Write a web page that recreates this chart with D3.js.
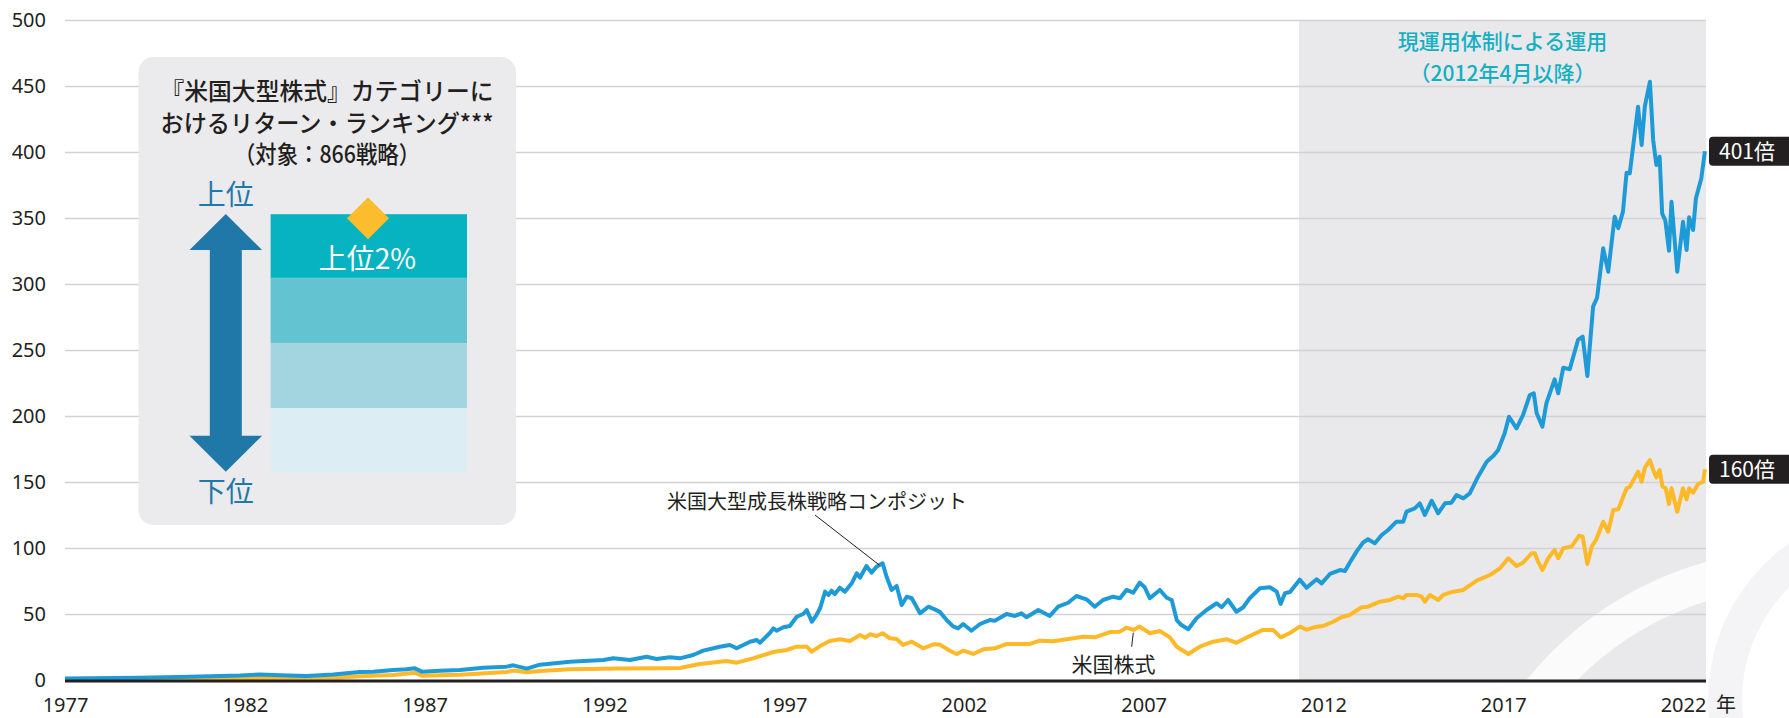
<!DOCTYPE html>
<html>
<head>
<meta charset="utf-8">
<script src="https://cdn.jsdelivr.net/npm/d3@7/dist/d3.min.js"></script>
<style>
  body { margin: 0; background: #fff; }
  svg { display: block; font-family: "Noto Sans CJK JP", "Noto Sans", sans-serif; }
  .tick-label { font-family: "Noto Sans", sans-serif; font-size: 20px; fill: #231f20; }
</style>
</head>
<body>
<div id="vis-container"></div>
<script>
// values, x = year as placed on the axis, y = growth multiple
const growthSeries = [
  [1977.00,1.5],[1979.09,2.0],[1980.48,2.8],[1981.87,3.8],[1982.42,4.6],[1982.98,3.9],[1983.72,3.4],[1984.46,4.6],
  [1985.20,6.5],[1985.57,6.7],[1986.13,8.0],[1986.50,8.5],[1986.73,9.2],[1986.92,6.7],[1987.43,7.4],[1987.98,8.0],
  [1988.63,9.7],[1989.28,10.5],[1989.47,11.5],[1989.84,9.0],[1990.21,12.0],[1991.04,14.2],[1991.97,15.5],[1992.25,16.8],
  [1992.71,15.5],[1993.18,18.0],[1993.45,16.3],[1993.82,17.6],[1994.10,16.8],[1994.47,19.3],[1994.75,22.6],[1995.21,25.6],
  [1995.49,26.9],[1995.68,24.4],[1996.05,29.4],[1996.24,30.7],[1996.33,28.6],[1996.61,36.2],[1996.70,39.5],[1996.79,37.7],
  [1996.98,40.3],[1997.16,41.3],[1997.35,48.3],[1997.53,50.4],[1997.63,53.4],[1997.77,44.5],[1997.90,49.6],[1998.00,54.7],
  [1998.14,67.3],[1998.23,64.8],[1998.32,68.0],[1998.41,65.5],[1998.55,70.3],[1998.69,67.3],[1998.88,73.6],[1999.02,81.2],
  [1999.11,77.9],[1999.29,86.7],[1999.43,81.7],[1999.57,86.2],[1999.74,88.8],[1999.85,78.6],[1999.99,68.6],[2000.13,71.6],
  [2000.27,57.2],[2000.41,63.5],[2000.55,62.3],[2000.78,50.9],[2001.01,55.9],[2001.19,53.9],[2001.33,52.0],[2001.52,45.8],
  [2001.70,41.0],[2001.84,39.5],[2001.98,42.8],[2002.21,37.7],[2002.45,42.8],[2002.72,45.8],[2002.86,45.3],[2003.19,50.4],
  [2003.42,48.9],[2003.60,50.9],[2003.74,47.9],[2004.07,53.4],[2004.39,48.9],[2004.62,55.9],[2004.90,58.9],[2005.13,64.0],
  [2005.41,61.5],[2005.64,55.9],[2005.87,61.0],[2006.15,63.5],[2006.34,62.3],[2006.52,68.6],[2006.71,66.5],[2006.89,74.1],
  [2007.03,70.6],[2007.17,62.3],[2007.45,68.6],[2007.64,62.7],[2007.78,61.0],[2007.92,45.8],[2008.05,42.0],[2008.24,38.8],
  [2008.47,47.1],[2008.75,53.4],[2009.03,58.5],[2009.17,55.5],[2009.35,61.0],[2009.58,52.1],[2009.77,55.5],[2009.95,62.3],
  [2010.23,69.8],[2010.51,70.6],[2010.70,67.3],[2010.81,58.0],[2010.93,66.1],[2011.07,67.0],[2011.34,76.4],[2011.53,70.2],
  [2011.81,76.7],[2011.95,73.6],[2012.18,80.7],[2012.46,83.7],[2012.60,83.0],[2012.73,89.2],[2012.92,97.6],[2013.10,104.4],
  [2013.24,107.0],[2013.43,103.9],[2013.62,110.2],[2013.80,114.0],[2014.03,120.3],[2014.22,120.3],[2014.31,127.9],[2014.54,130.4],
  [2014.68,134.2],[2014.82,125.4],[2015.01,136.2],[2015.19,126.7],[2015.38,134.2],[2015.56,134.7],[2015.70,140.5],[2015.89,138.0],
  [2016.07,141.8],[2016.30,154.4],[2016.54,165.8],[2016.72,170.0],[2016.86,174.6],[2017.04,187.3],[2017.16,199.8],[2017.37,191.0],
  [2017.55,201.1],[2017.74,216.3],[2017.85,217.6],[2017.93,202.4],[2018.09,192.3],[2018.20,210.0],[2018.43,228.2],[2018.53,217.6],
  [2018.67,237.0],[2018.85,235.8],[2019.08,258.0],[2019.21,260.5],[2019.34,230.7],[2019.50,283.2],[2019.61,290.0],[2019.78,327.4],
  [2019.92,309.7],[2020.10,351.4],[2020.20,342.6],[2020.33,355.2],[2020.43,384.7],[2020.52,384.2],[2020.75,434.7],[2020.85,405.7],
  [2020.94,435.2],[2021.08,453.6],[2021.17,409.5],[2021.26,390.5],[2021.35,396.8],[2021.42,353.9],[2021.51,348.3],[2021.61,325.6],
  [2021.68,362.7],[2021.84,309.7],[2022.00,347.6],[2022.10,326.1],[2022.17,350.9],[2022.28,341.3],[2022.36,365.3],[2022.51,380.5],
  [2022.61,401]
];

const stockSeries = [
  [1977.00,1.2],[1980.48,1.4],[1981.87,1.8],[1982.98,2.0],[1984.65,2.3],[1985.20,3.2],[1986.13,4.2],[1986.73,5.9],
  [1986.92,3.6],[1987.98,4.4],[1989.28,6.5],[1989.47,7.5],[1989.84,6.2],[1990.21,7.2],[1991.04,8.5],[1992.43,9.0],
  [1993.55,9.2],[1994.10,9.5],[1994.66,12.5],[1995.40,14.8],[1995.68,13.5],[1996.14,16.8],[1996.70,21.6],[1997.07,23.1],
  [1997.35,25.6],[1997.63,25.6],[1997.77,21.8],[1998.00,26.1],[1998.27,29.9],[1998.55,31.2],[1998.83,29.9],[1999.11,34.5],
  [1999.25,32.4],[1999.39,35.0],[1999.57,33.7],[1999.74,35.8],[1999.94,32.0],[2000.13,31.4],[2000.31,26.9],[2000.55,29.4],
  [2000.87,24.4],[2001.15,27.4],[2001.33,27.2],[2001.61,22.5],[2001.80,20.1],[2001.98,22.6],[2002.26,20.1],[2002.54,23.6],
  [2002.86,24.4],[2003.19,27.7],[2003.56,27.7],[2003.84,27.7],[2004.11,30.2],[2004.48,29.7],[2004.86,31.2],[2005.32,33.2],
  [2005.64,32.7],[2006.06,36.7],[2006.34,37.0],[2006.52,40.0],[2006.71,38.3],[2006.89,40.8],[2007.17,35.8],[2007.45,37.5],
  [2007.73,32.7],[2007.92,25.6],[2008.24,20.1],[2008.56,25.6],[2008.93,29.4],[2009.31,31.2],[2009.58,28.6],[2009.95,33.7],
  [2010.32,38.3],[2010.60,38.3],[2010.81,32.7],[2011.07,36.0],[2011.34,40.8],[2011.53,38.5],[2011.81,40.8],[2011.99,41.3],
  [2012.27,44.5],[2012.50,47.9],[2012.73,49.6],[2013.06,55.5],[2013.24,55.9],[2013.57,59.7],[2013.85,61.0],[2014.08,63.5],
  [2014.22,62.3],[2014.31,64.8],[2014.59,64.8],[2014.73,63.5],[2014.82,59.7],[2014.96,64.8],[2015.19,61.0],[2015.33,64.8],
  [2015.61,67.3],[2015.89,68.6],[2016.26,75.6],[2016.63,79.9],[2016.91,85.0],[2017.14,92.6],[2017.37,86.7],[2017.55,89.2],
  [2017.79,96.4],[2017.88,96.4],[2017.97,90.0],[2018.09,83.7],[2018.25,92.6],[2018.43,98.9],[2018.53,92.6],[2018.67,100.2],
  [2018.90,101.4],[2019.11,109.7],[2019.21,108.9],[2019.34,88.3],[2019.46,101.4],[2019.59,107.0],[2019.78,120.3],[2019.92,112.7],
  [2020.06,129.2],[2020.20,129.7],[2020.43,145.6],[2020.52,146.8],[2020.75,158.2],[2020.85,150.6],[2020.94,161.2],[2021.08,167.0],
  [2021.17,159.5],[2021.26,153.9],[2021.35,159.5],[2021.43,146.8],[2021.52,145.6],[2021.61,133.7],[2021.68,145.6],[2021.84,127.9],
  [2022.00,145.6],[2022.10,137.3],[2022.17,145.6],[2022.28,142.3],[2022.42,148.9],[2022.56,150.6],[2022.61,160]
];

const yearTicks = [1977, 1982, 1987, 1992, 1997, 2002, 2007, 2012, 2017, 2022];
const valueTicks = [0, 50, 100, 150, 200, 250, 300, 350, 400, 450, 500];
const shadeYears = [2011.32, 2022.64];   // 現運用体制 period as drawn
const rankBands = ["#08b3c1", "#63c3d0", "#a2d5e0", "#dcedf3"];
const panelTitle = ["『米国大型株式』カテゴリーに", "おけるリターン・ランキング***", "（対象：866戦略）"];
const panelTitleWidths = [333, 333, 186];

let width = 1789;
let height = 718;

let svg = d3.select("#vis-container").append("svg").attr("width", width).attr("height", height);

let x = d3.scaleLinear().domain([1977, 2022]).range([65, 1683]);
let y = d3.scaleLinear().domain([0, 500]).range([680.5, 20.5]);
let plotRight = x(shadeYears[1]);

// shaded period
svg.append("rect")
  .attr("x", x(shadeYears[0])).attr("y", y(500))
  .attr("width", plotRight - x(shadeYears[0])).attr("height", y(0) - y(500))
  .attr("fill", "#e9e9ec");

svg.append("clipPath").attr("id", "shade-clip").append("rect")
  .attr("x", x(shadeYears[0])).attr("y", y(500))
  .attr("width", plotRight - x(shadeYears[0])).attr("height", y(0) - y(500));

// faint decorative ring in the lower right
svg.append("circle").attr("cx", 1800).attr("cy", 900).attr("r", 332)
  .attr("fill", "none").attr("stroke", "#ffffff").attr("stroke-width", 38)
  .attr("opacity", 0.8).attr("clip-path", "url(#shade-clip)");
svg.append("clipPath").attr("id", "outside-clip").append("rect")
  .attr("x", plotRight).attr("y", 0).attr("width", width - plotRight).attr("height", height);
svg.append("circle").attr("cx", 1900).attr("cy", 700).attr("r", 175)
  .attr("fill", "none").attr("stroke", "#f4f4f6").attr("stroke-width", 34)
  .attr("clip-path", "url(#outside-clip)");

// gridlines
svg.append("g").selectAll("line")
  .data(valueTicks.filter(d => d > 0)).enter().append("line")
  .attr("x1", x(1977)).attr("x2", plotRight)
  .attr("y1", d => y(d)).attr("y2", d => y(d))
  .attr("stroke", "#d2d2d4").attr("stroke-width", 1.5);

// axes
svg.append("g")
  .attr("transform", "translate(" + x(1977) + ",0)")
  .call(d3.axisLeft(y).tickValues(valueTicks).tickSize(0).tickPadding(19))
  .call(g => g.select(".domain").remove())
  .selectAll("text").attr("class", "tick-label").attr("font-size", null).attr("font-family", null);

svg.append("g")
  .attr("transform", "translate(0," + y(0) + ")")
  .call(d3.axisBottom(x).tickValues(yearTicks).tickFormat(d3.format("d")).tickSize(0).tickPadding(17))
  .call(g => g.select(".domain").remove())
  .selectAll("text").attr("class", "tick-label").attr("font-size", null).attr("font-family", null);

svg.append("text").attr("class", "tick-label")
  .attr("x", x(2022) + 43).attr("y", 712).attr("text-anchor", "middle")
  .style("font-family", "'Noto Sans CJK JP'").text("年");

// ranking panel
let panel = svg.append("g");
panel.append("rect").attr("x", 138.5).attr("y", 57).attr("width", 377.5).attr("height", 468)
  .attr("rx", 15).attr("fill", "#ebebed");

panel.selectAll(".title").data(panelTitle).enter().append("text")
  .attr("class", "title")
  .attr("x", 327).attr("y", (d, i) => 100 + i * 31.5)
  .attr("text-anchor", "middle")
  .attr("textLength", (d, i) => panelTitleWidths[i]).attr("lengthAdjust", "spacingAndGlyphs")
  .style("font-size", "24px").style("font-weight", 500).style("fill", "#231f20")
  .text(d => d);

let bandEdges = [214.2, 277.9, 343, 408, 471.8];
panel.selectAll(".band").data(rankBands).enter().append("rect")
  .attr("x", 270.6).attr("width", 196.4)
  .attr("y", (d, i) => bandEdges[i]).attr("height", (d, i) => bandEdges[i + 1] - bandEdges[i])
  .attr("fill", d => d);

panel.append("path")
  .attr("d", "M368,197.3 L389,218.3 L368,239.3 L347,218.3 Z")
  .attr("fill", "#fbbd2b");

panel.append("text").attr("x", 367.5).attr("y", 268.5).attr("text-anchor", "middle")
  .style("font-size", "28px").style("fill", "#ffffff").text("上位2%");

// double arrow
let ax = 225.8;
panel.append("path")
  .attr("d", "M" + ax + ",214 L" + (ax + 36.3) + ",250 L" + (ax + 16) + ",250 L" + (ax + 16) + ",435.8 L" +
    (ax + 36.3) + ",435.8 L" + ax + ",471.8 L" + (ax - 36.3) + ",435.8 L" + (ax - 16) + ",435.8 L" +
    (ax - 16) + ",250 L" + (ax - 36.3) + ",250 Z")
  .attr("fill", "#1f78a8");
panel.append("text").attr("x", ax).attr("y", 205).attr("text-anchor", "middle")
  .style("font-size", "28px").style("fill", "#1f78a8").text("上位");
panel.append("text").attr("x", ax).attr("y", 501.5).attr("text-anchor", "middle")
  .style("font-size", "28px").style("fill", "#1f78a8").text("下位");

// shaded period caption
let shadeMid = (x(shadeYears[0]) + plotRight) / 2;
svg.append("text").attr("x", shadeMid).attr("y", 49).attr("text-anchor", "middle")
  .style("font-size", "21px").style("font-weight", 500).style("fill", "#14b0c2").text("現運用体制による運用");
svg.append("text").attr("x", shadeMid).attr("y", 80.5).attr("text-anchor", "middle")
  .style("font-size", "21px").style("font-weight", 500).style("fill", "#14b0c2").text("（2012年4月以降）");

// lines
let line = d3.line().x(d => x(d[0])).y(d => y(d[1]));

svg.append("path").attr("d", line(stockSeries))
  .attr("fill", "none").attr("stroke", "#fdb927").attr("stroke-width", 4).attr("stroke-linejoin", "round");
svg.append("path").attr("d", line(growthSeries))
  .attr("fill", "none").attr("stroke", "#1e9bd7").attr("stroke-width", 4).attr("stroke-linejoin", "round");

// zero baseline
svg.append("line").attr("x1", x(1977)).attr("x2", plotRight).attr("y1", y(0) + 0.5).attr("y2", y(0) + 0.5)
  .attr("stroke", "#231f20").attr("stroke-width", 3);

// series annotations
let peak = growthSeries.reduce((a, b) => (b[0] < 2005 && b[1] > a[1]) ? b : a);
svg.append("line").attr("x1", 815).attr("y1", 515).attr("x2", x(peak[0]) - 3).attr("y2", y(peak[1]) + 2)
  .attr("stroke", "#231f20").attr("stroke-width", 1);
svg.append("text").attr("x", 667).attr("y", 508.5)
  .style("font-size", "20px").style("fill", "#231f20").text("米国大型成長株戦略コンポジット");

svg.append("line").attr("x1", 1131.7).attr("y1", 646.7).attr("x2", 1133.3).attr("y2", 632.7)
  .attr("stroke", "#231f20").attr("stroke-width", 1);
svg.append("text").attr("x", 1071.5).attr("y", 671.5)
  .style("font-size", "21px").style("fill", "#231f20").text("米国株式");

// end value tags
let endTags = [growthSeries[growthSeries.length - 1][1], stockSeries[stockSeries.length - 1][1]];
let tags = svg.append("g").selectAll("g").data(endTags).enter().append("g")
  .attr("transform", d => "translate(1709," + y(d) + ")");
tags.append("rect").attr("x", 0).attr("y", -14.5).attr("width", 90).attr("height", 29).attr("rx", 4)
  .attr("fill", "#231f20");
tags.append("text").attr("x", 10).attr("y", 7.5)
  .style("font-size", "21px").style("fill", "#ffffff")
  .text(d => d3.format("d")(d) + "倍");
</script>
</body>
</html>
